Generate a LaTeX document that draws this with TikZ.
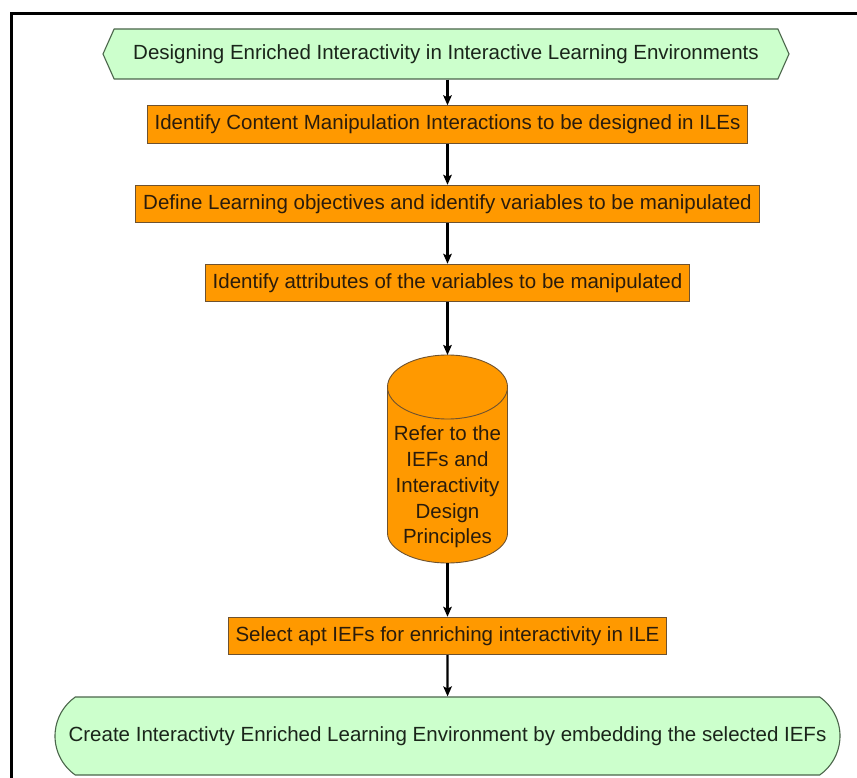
\documentclass[tikz,border=0pt]{standalone}
\usepackage{fontspec}
\setmainfont{Liberation Sans}
\usetikzlibrary{arrows.meta, positioning, shapes.geometric, shapes.misc, shapes.symbols}
\definecolor{corange}{HTML}{FF9900}
\definecolor{cgreen}{HTML}{CCFFCC}
\definecolor{cedge}{HTML}{6E5230}
\definecolor{gedge}{HTML}{4A654A}
\definecolor{ctext}{HTML}{2A1C0C}
\definecolor{gtext}{HTML}{1A251A}
\tikzset{
  every picture/.style={font=\fontsize{20.5}{25.7}\selectfont, line width=1pt},
  stepbox/.style={draw=cedge, fill=corange, text=ctext, inner xsep=7.5pt, minimum height=37.5pt, line width=0.9pt},
  startbox/.style={signal, signal to=west and east, signal pointer angle=132, draw=gedge, fill=cgreen, text=gtext, minimum width=686pt, minimum height=50pt, line width=1.1pt},
  endbox/.style={rounded rectangle, rounded rectangle arc length=110, draw=gedge, fill=cgreen, text=gtext, inner xsep=0pt, minimum width=785pt, minimum height=78pt, line width=1.1pt},
  store/.style={draw=cedge, fill=corange, line width=0.9pt},
  arrow/.style={-{Stealth[length=10pt, width=8.5pt, inset=2pt]}, draw=black, line width=2.3pt},
}

\begin{document}
\begin{tikzpicture}[x=1pt, y=-1pt]
  \useasboundingbox (0,0) rectangle (857,778);
  % frame, cut off at right and bottom
  \draw[line width=3.3pt] (857,13.3) -- (11.3,13.3) -- (11.3,778);
  \node[startbox] (start) at (446,54) {Designing Enriched Interactivity in Interactive Learning Environments};
  \node[stepbox] (b1) at (447.5,124.5) {Identify Content Manipulation Interactions to be designed in ILEs};
  \node[stepbox] (b2) at (447.5,204) {Define Learning objectives and identify variables to be manipulated};
  \node[stepbox] (b3) at (447.5,283) {Identify attributes of the variables to be manipulated};
  % cylinder drawn by hand
  \path[store] (387.5,387) -- (387.5,533) arc[start angle=180, end angle=360, x radius=60pt, y radius=30pt] -- (507.5,387) -- cycle;
  \path[store] (447.5,387) ellipse[x radius=60pt, y radius=32pt];
  \coordinate (cyltop) at (447.5,355);
  \coordinate (cylbot) at (447.5,563);
  \node[text=ctext, align=center] (cyl) at (447.5,487) {Refer to the\\IEFs and\\Interactivity\\Design\\Principles};
  \node[stepbox] (b4) at (447.5,636) {Select apt IEFs for enriching interactivity in ILE};
  \node[endbox] (goal) at (447.5,736) {Create Interactivty Enriched Learning Environment by embedding the selected IEFs};
  \draw[arrow] (start.south -| b1.north) -- (b1);
  \draw[arrow] (b1) -- (b2);
  \draw[arrow] (b2) -- (b3);
  \draw[arrow] (b3) -- (cyltop);
  \draw[arrow] (cylbot) -- (b4);
  \draw[arrow] (b4) -- (goal);
\end{tikzpicture}
\end{document}
